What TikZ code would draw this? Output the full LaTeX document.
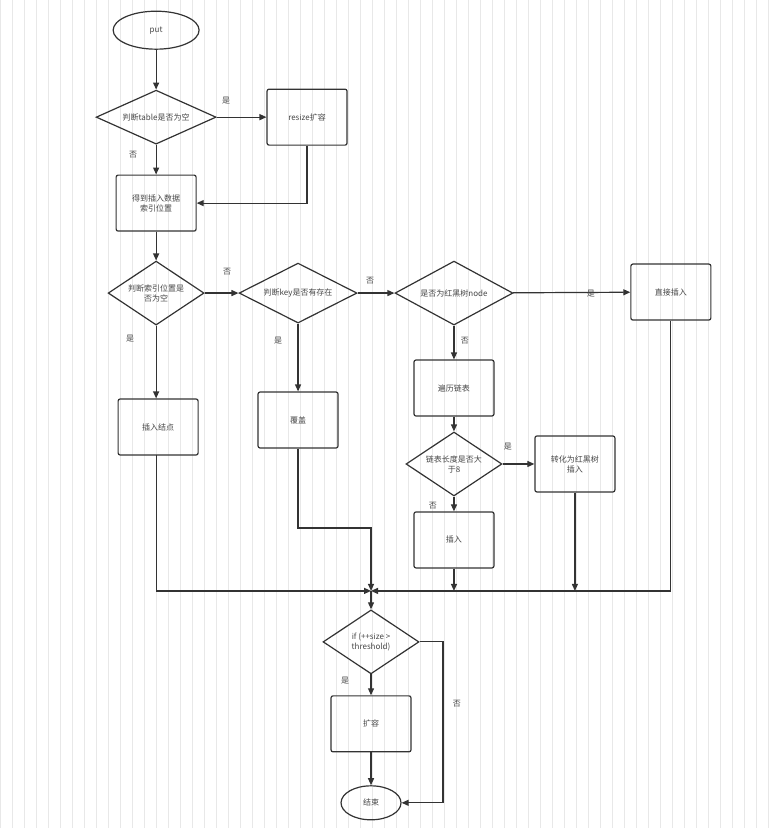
\documentclass[tikz,border=0pt]{standalone}
\usepackage{fontspec}
\setmainfont{Noto Sans CJK SC}
\usetikzlibrary{shapes.geometric,arrows.meta}
\definecolor{ln}{HTML}{333333}
\begin{document}
\begin{tikzpicture}[x=1pt,y=-1pt,
  every node/.style={font=\fontsize{8}{10}\selectfont, text=ln!90},
  box/.style={draw=ln,line width=1.2pt,rounded corners=2pt,minimum width=80pt,minimum height=56pt,align=center,inner sep=1pt},
  dia/.style={draw=ln,line width=1.2pt,diamond,aspect=1.6,inner sep=0pt,align=center},
  ell/.style={draw=ln,line width=1.2pt,ellipse},
  ar/.style={draw=ln,line width=1.2pt,-{Triangle[length=7pt,width=6pt]}},
  ln/.style={draw=ln,line width=1.2pt},
  lab/.style={font=\fontsize{8}{10}\selectfont}]
\fill[white] (0,0) rectangle (774,828);
\draw[gray!18,line width=0.4pt,step=12] (0,0) grid (774,828);
\useasboundingbox (0,0) rectangle (774,828);
\node[ell,minimum width=86pt,minimum height=38pt] (put) at (156,30) {put};
\node[dia,minimum width=120pt,minimum height=54pt] (d1) at (156,117) {判断table是否为空};
\node[box] (rs) at (307,117) {resize扩容};
\node[box] (idx) at (156,203) {得到插入数据\\索引位置};
\node[dia,minimum width=96pt,minimum height=64pt] (d2) at (156,293) {判断索引位置是\\否为空};
\node[dia,minimum width=118pt,minimum height=60pt] (d3) at (298,293) {判断key是否有存在};
\node[dia,minimum width=118pt,minimum height=64pt] (d4) at (454,293) {是否为红黑树node};
\node[box] (zj) at (671,292) {直接插入};
\node[box] (bl) at (454,388) {遍历链表};
\node[box] (crjd) at (158,427) {插入结点};
\node[box] (fg) at (298,420) {覆盖};
\node[dia,minimum width=96pt,minimum height=64pt] (d5) at (454,464) {链表长度是否大\\于8};
\node[box] (zh) at (575,464) {转化为红黑树\\插入};
\node[box] (cr) at (454,540) {插入};
\coordinate (m) at (371,591);
\node[dia,minimum width=96pt,minimum height=64pt] (d6) at (371,642) {if (++size >\\threshold)};
\node[box] (kr) at (371,724) {扩容};
\node[ell,minimum width=60pt,minimum height=34pt] (end) at (371,803) {结束};

\draw[ar] (put) -- (d1);
\draw[ar] (d1) -- (rs);
\draw[ar] (d1) -- (idx);
\draw[ar] (rs.south) |- (idx.east);
\draw[ar] (idx) -- (d2);
\draw[ar] (d2) -- (d3);
\draw[ar] (d3) -- (d4);
\draw[ar] (d4) -- (zj);
\draw[ar] (d2.south) -- (d2.south |- crjd.north);
\draw[ar] (d3) -- (fg);
\draw[ar] (d4) -- (bl);
\draw[ar] (bl) -- (d5);
\draw[ar] (d5) -- (zh);
\draw[ar] (d5) -- (cr);
\draw[ar] (156,455) |- (m);
\draw[ar] (fg.south) |- (371,528) -- (m);
\draw[ar] (zj.south) |- (m);
\draw[ar] (cr) -- (cr.south |- m);
\draw[ar] (zh) -- (zh.south |- m);
\draw[ar] (m) -- (d6);
\draw[ar] (d6) -- (kr);
\draw[ar] (kr) -- (end);
\draw[ar] (d6.east) -| (443,700) |- (end.east);

\node[lab] (l1) at (226,100) {是};
\node[lab] (l2) at (133,155) {否};
\node[lab] (l3) at (227,272) {否};
\node[lab] (l4) at (370,281) {否};
\node[lab] (l5) at (591,294) {是};
\node[lab] (l6) at (465,341) {否};
\node[lab] (l7) at (130,339) {是};
\node[lab] (l8) at (278,341) {是};
\node[lab] (l9) at (508,447) {是};
\node[lab] (l10) at (433,506) {否};
\node[lab] (l11) at (345,681) {是};
\node[lab] (l12) at (457,704) {否};
\end{tikzpicture}
\end{document}
